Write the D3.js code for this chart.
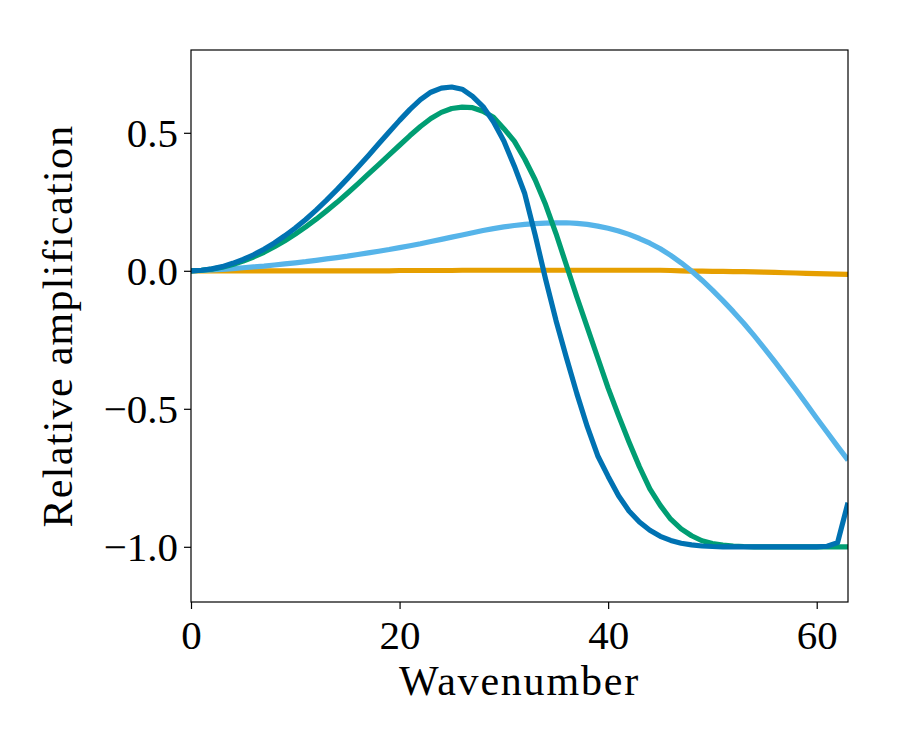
<!DOCTYPE html>
<html>
<head>
<meta charset="utf-8">
<script src="https://cdn.jsdelivr.net/npm/d3@7"></script>
<style>
  body { margin: 0; background: #fff; }
  svg text { font-family: "Liberation Serif", "DejaVu Serif", serif; }
</style>
</head>
<body>
<div class="chart"></div>
<script>
// wavenumbers 0..63
var wavenumbers = d3.range(0, 64);

var yTicks = [-1.0, -0.5, 0.0, 0.5];
var xTicks = [0, 20, 40, 60];

var orangeSeries = [
  0, 0, 0, 0, 0, 0, 0, 0, 0, 0,
  0, 0, 0, 0, 0, 0, 0, 0, 0, 0,
  0.001, 0.001, 0.001, 0.001, 0.001, 0.001, 0.002, 0.002, 0.002, 0.002,
  0.002, 0.002, 0.002, 0.002, 0.002, 0.002, 0.002, 0.002, 0.002, 0.002,
  0.002, 0.002, 0.002, 0.002, 0.002, 0.002, 0.001, 0.0, -0.001, -0.001,
  -0.002, -0.002, -0.003, -0.003, -0.004, -0.005, -0.006, -0.007, -0.008, -0.009,
  -0.010, -0.011, -0.012, -0.013
];

var skySeries = [
  0, 0.001, 0.003, 0.005, 0.008, 0.011, 0.014, 0.017, 0.021, 0.025,
  0.029, 0.033, 0.038, 0.043, 0.048, 0.053, 0.059, 0.065, 0.071, 0.077,
  0.084, 0.091, 0.098, 0.106, 0.114, 0.122, 0.130, 0.138, 0.146, 0.153,
  0.159, 0.164, 0.168, 0.171, 0.173, 0.174, 0.174, 0.172, 0.168, 0.162,
  0.154, 0.144, 0.132, 0.117, 0.100, 0.080, 0.056, 0.029, -0.001, -0.034,
  -0.070, -0.108, -0.148, -0.190, -0.235, -0.282, -0.330, -0.380, -0.430, -0.482,
  -0.534, -0.585, -0.636, -0.686
];

var greenSeries = [
  0, 0.002, 0.006, 0.013, 0.023, 0.035, 0.050, 0.067, 0.087, 0.109,
  0.133, 0.159, 0.187, 0.217, 0.248, 0.281, 0.315, 0.350, 0.385, 0.420,
  0.455, 0.490, 0.523, 0.552, 0.574, 0.588, 0.593, 0.591, 0.578, 0.556,
  0.515, 0.470, 0.405, 0.330, 0.240, 0.135, 0.020, -0.095, -0.205, -0.315,
  -0.425, -0.525, -0.620, -0.710, -0.790, -0.850, -0.900, -0.935, -0.960, -0.978,
  -0.988, -0.994, -0.997, -0.999, -1.0, -1.0, -1.0, -1.0, -1.0, -1.0,
  -1.0, -1.0, -1.0, -1.0
];

var blueSeries = [
  0, 0.002, 0.007, 0.015, 0.027, 0.041, 0.058, 0.078, 0.101, 0.127,
  0.155, 0.186, 0.220, 0.256, 0.294, 0.334, 0.375, 0.417, 0.460, 0.503,
  0.545, 0.585, 0.620, 0.647, 0.662, 0.666, 0.658, 0.632, 0.595, 0.540,
  0.470, 0.380, 0.280, 0.130, -0.030, -0.180, -0.315, -0.445, -0.565, -0.670,
  -0.745, -0.815, -0.870, -0.910, -0.940, -0.962, -0.977, -0.987, -0.993, -0.997,
  -0.999, -1.0, -1.0, -1.0, -1.0, -1.0, -1.0, -1.0, -1.0, -1.0,
  -1.0, -0.998, -0.985, -0.840
];

var seriesList = [
  { name: "orange", color: "#E69F00", values: orangeSeries },
  { name: "sky", color: "#56B4E9", values: skySeries },
  { name: "green", color: "#009E73", values: greenSeries },
  { name: "blue", color: "#0072B2", values: blueSeries }
];

var svgWidth = 900;
var svgHeight = 750;

var margin = { top: 50, right: 52, bottom: 148, left: 191 };
var width = svgWidth - margin.left - margin.right;
var height = svgHeight - margin.top - margin.bottom;

var svg = d3.select(".chart")
  .append("svg")
  .attr("width", svgWidth)
  .attr("height", svgHeight);

var chartGroup = svg.append("g")
  .attr("transform", `translate(${margin.left}, ${margin.top})`);

var xScale = d3.scaleLinear().domain([0, 63]).range([0, width]);
var yScale = d3.scaleLinear().domain([-1.2, 0.8]).range([height, 0]);

// clip lines to the axes box
chartGroup.append("clipPath").attr("id", "clip")
  .append("rect").attr("width", width).attr("height", height);

var line = d3.line()
  .x((d, i) => xScale(wavenumbers[i]))
  .y(d => yScale(d));

chartGroup.append("g")
  .attr("clip-path", "url(#clip)")
  .selectAll("path")
  .data(seriesList)
  .enter()
  .append("path")
  .attr("d", d => line(d.values))
  .attr("fill", "none")
  .attr("stroke", d => d.color)
  .attr("stroke-width", 5.2)
  .attr("stroke-linejoin", "round");

// axes
var xAxis = d3.axisBottom(xScale).tickValues(xTicks).tickSize(7).tickPadding(6)
  .tickFormat(d3.format("d"));
var yAxis = d3.axisLeft(yScale).tickValues(yTicks).tickSize(7).tickPadding(6)
  .tickFormat(d => d3.format(".1f")(d).replace("-", "\u2212"));

var gx = chartGroup.append("g")
  .attr("transform", `translate(0, ${height})`)
  .call(xAxis);
var gy = chartGroup.append("g").call(yAxis);

[gx, gy].forEach(g => {
  g.select(".domain").remove();
  g.selectAll("line").attr("stroke", "#000").attr("stroke-width", 1.2);
  g.selectAll("text")
    .attr("fill", "#000")
    .style("font-size", "41px");
});
gx.selectAll("text").attr("y", 47).attr("dy", "0");
gy.selectAll("text").attr("dy", "0.34em");

// frame
chartGroup.append("rect")
  .attr("width", width)
  .attr("height", height)
  .attr("fill", "none")
  .attr("stroke", "#000")
  .attr("stroke-width", 1.2);

// axis labels
chartGroup.append("text")
  .attr("x", width / 2)
  .attr("y", height + 93)
  .attr("text-anchor", "middle")
  .style("font-size", "42px")
  .style("letter-spacing", "1.8px")
  .text("Wavenumber");

chartGroup.append("text")
  .attr("transform", `translate(${-119}, ${height / 2}) rotate(-90)`)
  .attr("text-anchor", "middle")
  .style("font-size", "42px")
  .style("letter-spacing", "1.3px")
  .text("Relative amplification");
</script>
</body>
</html>
